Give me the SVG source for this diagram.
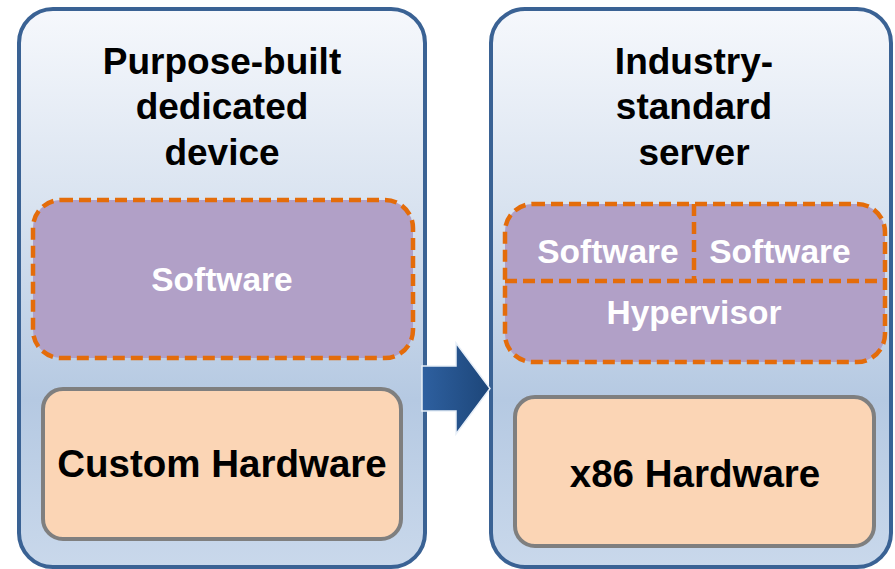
<svg xmlns="http://www.w3.org/2000/svg" width="895" height="569" viewBox="0 0 895 569">
  <defs>
    <linearGradient id="panelFill" x1="0" y1="0" x2="0" y2="1">
      <stop offset="0" stop-color="#f6f8fc"/>
      <stop offset="0.35" stop-color="#d9e3f0"/>
      <stop offset="0.7" stop-color="#b5c9e2"/>
      <stop offset="1" stop-color="#c9d8eb"/>
    </linearGradient>
    <linearGradient id="arrowFill" x1="0" y1="0" x2="1" y2="0">
      <stop offset="0" stop-color="#2e60a0"/>
      <stop offset="1" stop-color="#1d4679"/>
    </linearGradient>
    <style>
      .panel { fill: url(#panelFill); stroke: #3a6294; stroke-width: 4; }
      .soft { fill: #b1a0c7; stroke: #e46c0a; stroke-width: 4.5; stroke-dasharray: 12 6; }
      .divider { fill: none; stroke: #e46c0a; stroke-width: 4.5; stroke-dasharray: 12 6; }
      .hw { fill: #fbd5b5; stroke: #7f7f7f; stroke-width: 4; }
      .title { font-family: "Liberation Sans", Arial, sans-serif; font-weight: bold; font-size: 37px; fill: #000; text-anchor: middle; }
      .hwText { font-family: "Liberation Sans", Arial, sans-serif; font-weight: bold; font-size: 38.5px; fill: #000; text-anchor: middle; }
      .swText { font-family: "Liberation Sans", Arial, sans-serif; font-weight: bold; font-size: 33.5px; fill: #fff; text-anchor: middle; }
    </style>
  </defs>

  <rect width="895" height="569" fill="#ffffff"/>

  <!-- Left: purpose-built appliance -->
  <g id="purpose-built">
    <rect class="panel" x="19" y="9" width="406" height="558" rx="34"/>
    <text class="title" x="222" y="74">Purpose-built</text>
    <text class="title" x="222" y="119">dedicated</text>
    <text class="title" x="222" y="165">device</text>
  </g>
  <g id="software-left">
    <rect class="soft" x="33" y="200" width="380" height="158" rx="28"/>
    <text class="swText" x="222" y="291">Software</text>
  </g>
  <g id="custom-hardware">
    <rect class="hw" x="43" y="389" width="358" height="150" rx="20"/>
    <text class="hwText" x="222" y="477">Custom Hardware</text>
  </g>

  <!-- Right: virtualised commodity server -->
  <g id="industry-standard">
    <rect class="panel" x="491" y="9" width="400" height="558" rx="34"/>
    <text class="title" x="694" y="74">Industry-</text>
    <text class="title" x="694" y="119">standard</text>
    <text class="title" x="694" y="165">server</text>
  </g>
  <g id="virtualisation-stack">
    <rect class="soft" x="505" y="204" width="380" height="158" rx="28"/>
    <path class="divider" d="M505 281 H885 M694 204 V281"/>
    <text class="swText" x="608" y="263">Software</text>
    <text class="swText" x="780" y="263">Software</text>
    <text class="swText" x="694" y="324">Hypervisor</text>
  </g>
  <g id="x86-hardware">
    <rect class="hw" x="515" y="397" width="359" height="149" rx="20"/>
    <text class="hwText" x="695" y="487">x86 Hardware</text>
  </g>

  <!-- Transition arrow -->
  <g id="connectors">
    <polygon points="422,366 456,366 456,343 490,388.5 456,434 456,411 422,411" fill="url(#arrowFill)" stroke="#e8eff8" stroke-width="1.5" stroke-linejoin="miter"/>
  </g>
</svg>
